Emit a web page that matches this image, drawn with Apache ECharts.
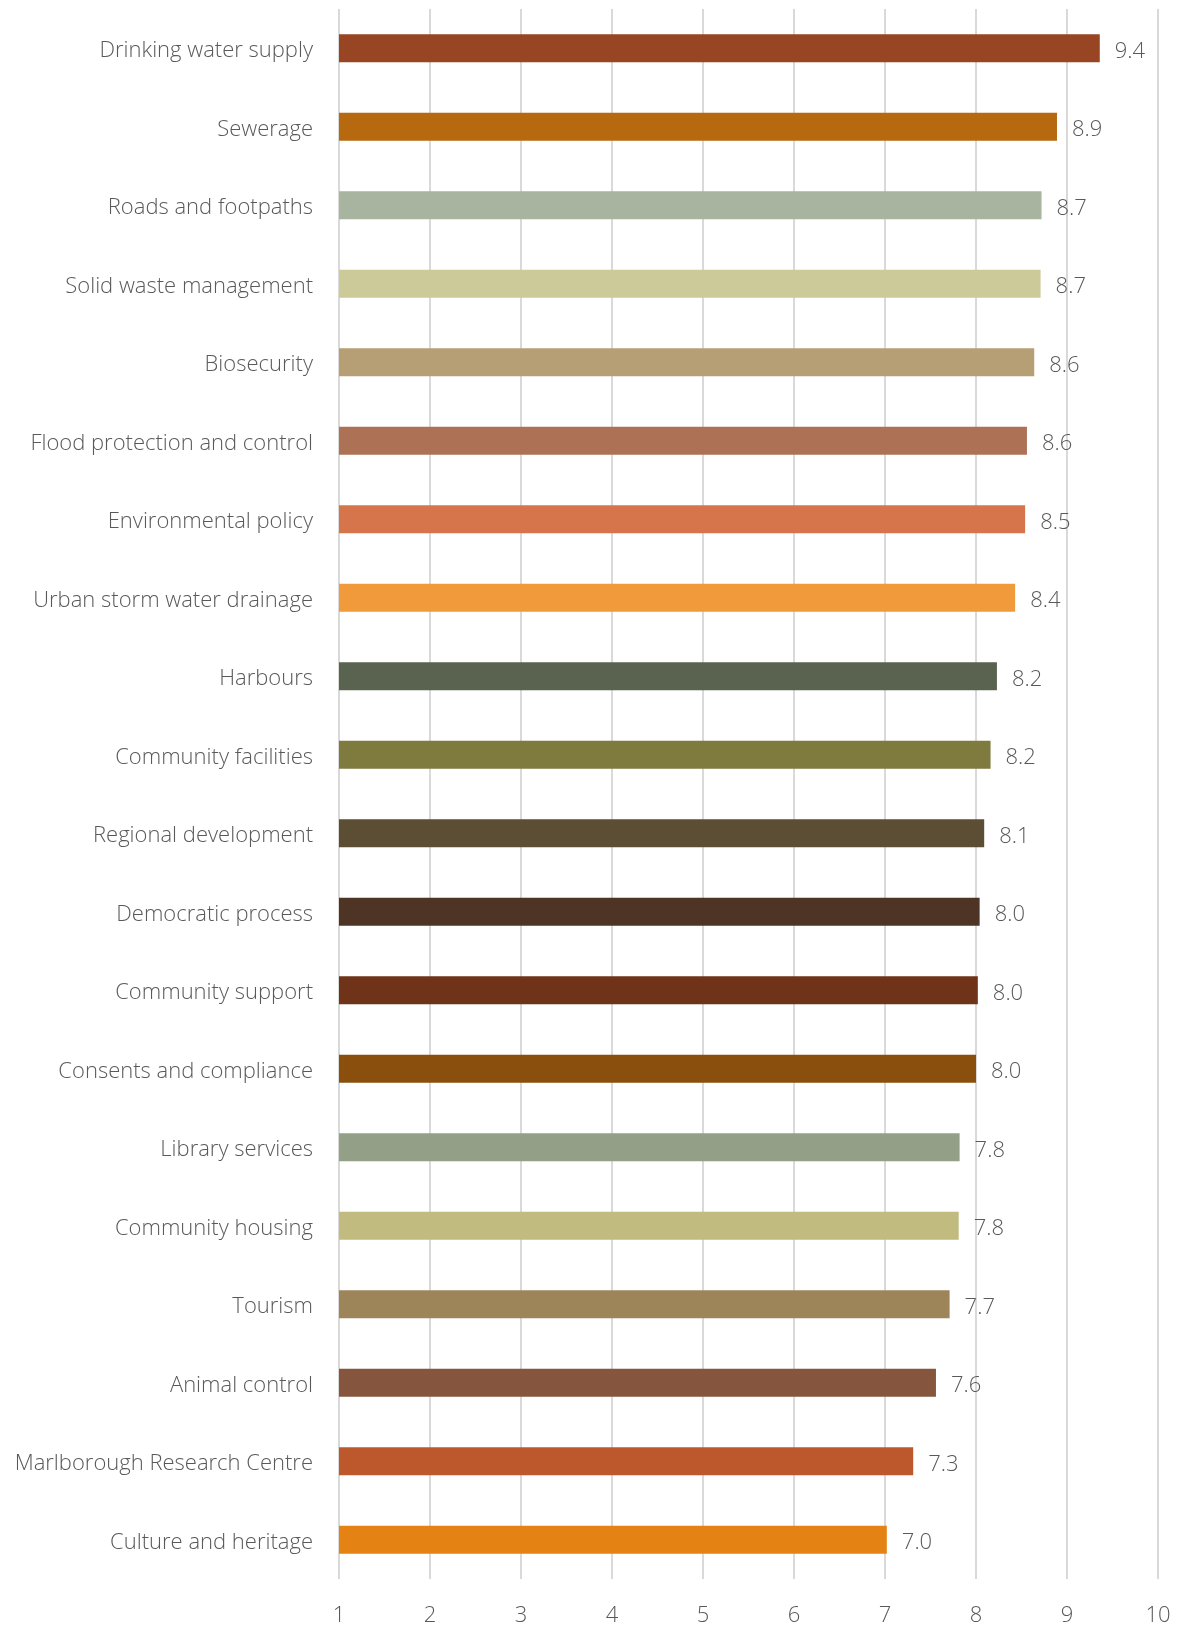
<!DOCTYPE html>
<html>
<head>
<meta charset="utf-8">
<script src="https://cdn.jsdelivr.net/npm/echarts@6/dist/echarts.min.js"></script>
<style>
html,body{margin:0;padding:0;background:#fff;}
#chart{width:1178px;height:1627px;}
</style>
</head>
<body>
<div id="chart"></div>
<script>
const categories = [
  "Drinking water supply","Sewerage","Roads and footpaths","Solid waste management",
  "Biosecurity","Flood protection and control","Environmental policy","Urban storm water drainage",
  "Harbours","Community facilities","Regional development","Democratic process",
  "Community support","Consents and compliance","Library services","Community housing",
  "Tourism","Animal control","Marlborough Research Centre","Culture and heritage"
];
const values = [9.36, 8.89, 8.72, 8.71, 8.64, 8.56, 8.54, 8.43, 8.23, 8.16, 8.09, 8.04, 8.02, 8.00, 7.82, 7.81, 7.71, 7.56, 7.31, 7.02];
const barColors = [
  "#974522","#B6690F","#A8B3A0","#CDCA9A","#B69E75","#AD7256","#D6754B","#F09A3C",
  "#59634F","#7F7A3E","#5C4E34","#4E3424","#6E3319","#8A4F0C","#949F87","#C1BB80",
  "#9E8459","#85553D","#BC582C","#E48313"
];
const xTicks = [1,2,3,4,5,6,7,8,9,10];

const FONT = "'Open Sans', sans-serif";
const txt = {color:'#595959', fontFamily:FONT, fontWeight:300, fontSize:22};
const chart = echarts.init(document.getElementById('chart'), null, {renderer:'canvas'});
chart.setOption({
  animation:false,
  backgroundColor:'#ffffff',
  grid:{left:339, right:20, top:9, bottom:45, containLabel:false},
  xAxis:{
    type:'value', min:xTicks[0], max:xTicks[xTicks.length-1], interval:1,
    axisLine:{show:false}, axisTick:{show:false},
    splitLine:{show:true, lineStyle:{color:'#d9d9d9', width:2}},
    axisLabel:Object.assign({margin:26}, txt)
  },
  yAxis:{
    type:'category', data:categories, inverse:true,
    axisLine:{show:false}, axisTick:{show:false},
    axisLabel:Object.assign({margin:26,
      formatter:v=>'{a|'+v+'}',
      rich:{a:Object.assign({padding:[5,0,0,0]}, txt)}
    }, txt)
  },
  series:[{
    type:'bar',
    barWidth:28,
    data: values.map((v,i)=>({value:v, itemStyle:{color:barColors[i]}})),
    label:Object.assign({
      show:true, position:'right', distance:15, offset:[0,3],
      formatter:p=>p.value.toFixed(1)
    }, txt)
  }]
});
</script>
</body>
</html>
